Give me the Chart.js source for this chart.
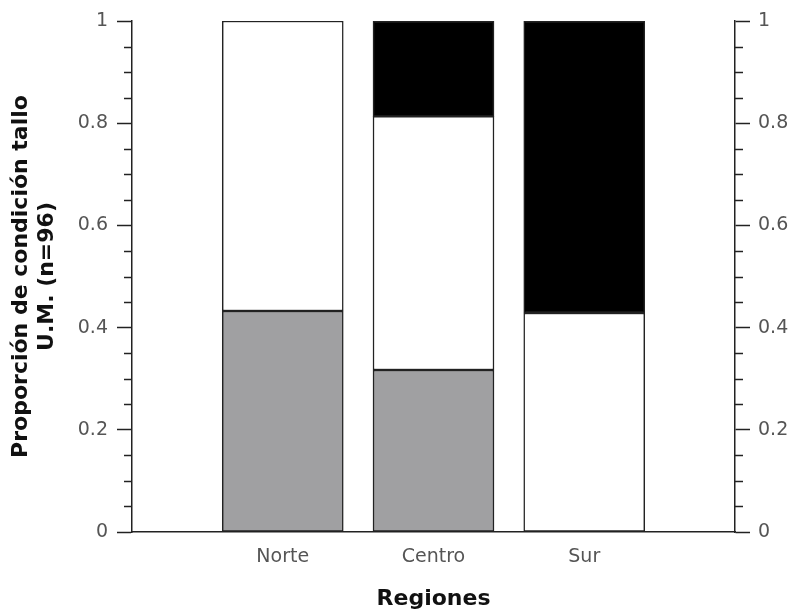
<!DOCTYPE html>
<html>
<head>
<meta charset="utf-8">
<script src="https://cdn.jsdelivr.net/npm/chart.js@4/dist/chart.umd.min.js"></script>
<style>
  html, body { margin: 0; padding: 0; background: #fff; }
  canvas { display: block; }
</style>
</head>
<body>
<canvas id="c" width="796" height="616"></canvas>
<script>
// Regions (blank slots pad the category axis on each side)
const regiones = ['', 'Norte', 'Centro', 'Sur', ''];

// Proportion of each stem condition per region
const condGris   = [null, 0.4325, 0.317, null, null];
const condBlanco = [null, 0.5675, 0.4965, 0.4286, null];
const condNegro  = [null, null, 0.1865, 0.5714, null];

const yTicksMajor = [0, 0.2, 0.4, 0.6, 0.8, 1];
const yMinorStep = 0.05;

const axisColor = '#222';
const tickFont = { family: 'DejaVu Sans', size: 19 };
const tickColor = '#555';
const titleFont = { family: 'DejaVu Sans', size: 22, weight: 'bold', lineHeight: 1.15 };

// Short unlabeled ticks between the labeled ones on both y axes
const minorTicks = {
  id: 'minorTicks',
  afterDraw(chart) {
    const ctx = chart.ctx;
    const area = chart.chartArea;
    ctx.save();
    ctx.strokeStyle = axisColor;
    ctx.lineWidth = 1.5;
    ['y', 'y2'].forEach(id => {
      const s = chart.scales[id];
      for (let i = 0; i <= 20; i++) {
        const v = i * yMinorStep;
        if (i % 4 === 0) continue;
        const py = Math.round(s.getPixelForValue(v)) + 0.5;
        ctx.beginPath();
        if (id === 'y') { ctx.moveTo(area.left - 8, py); ctx.lineTo(area.left, py); }
        else { ctx.moveTo(area.right, py); ctx.lineTo(area.right + 8, py); }
        ctx.stroke();
      }
    });
    ctx.restore();
  }
};

const fmt = v => String(Math.round(v * 10) / 10);
const barStyle = { borderColor: axisColor, borderWidth: 1.5, borderSkipped: false, barThickness: 121 };

new Chart(document.getElementById('c'), {
  type: 'bar',
  data: {
    labels: regiones,
    datasets: [
      Object.assign({ label: 'gris', data: condGris, backgroundColor: '#a0a0a2' }, barStyle),
      Object.assign({ label: 'blanco', data: condBlanco, backgroundColor: '#ffffff' }, barStyle),
      Object.assign({ label: 'negro', data: condNegro, backgroundColor: '#000000' }, barStyle)
    ]
  },
  options: {
    responsive: false,
    animation: false,
    layout: { padding: { top: 21, left: 0, right: 0, bottom: 0 } },
    plugins: { legend: { display: false }, tooltip: { enabled: false } },
    scales: {
      x: {
        stacked: true,
        offset: false,
        grid: { display: false },
        border: { display: true, color: axisColor, width: 1.5 },
        ticks: { color: tickColor, font: tickFont, padding: 6, maxRotation: 0, autoSkip: false },
        title: { display: true, text: 'Regiones', color: '#111', font: titleFont, padding: { top: 20 } },
        afterFit(s) { s.height = 84; }
      },
      y: {
        stacked: true,
        position: 'left',
        min: 0, max: 1,
        afterBuildTicks(s) { s.ticks = yTicksMajor.map(v => ({ value: v })); },
        grid: { drawOnChartArea: false, drawTicks: true, tickLength: 15, tickColor: axisColor, tickWidth: 1.5 },
        border: { display: true, color: axisColor, width: 1.5 },
        ticks: { color: tickColor, font: tickFont, padding: 9, callback: fmt },
        title: { display: true, text: ['Proporción de condición tallo', 'U.M. (n=96)'], color: '#111',
                 font: titleFont, padding: { top: 9, bottom: 0 } },
        afterFit(s) { s.width = 132; }
      },
      y2: {
        position: 'right',
        min: 0, max: 1,
        afterBuildTicks(s) { s.ticks = yTicksMajor.map(v => ({ value: v })); },
        grid: { drawOnChartArea: false, drawTicks: true, tickLength: 15, tickColor: axisColor, tickWidth: 1.5 },
        border: { display: true, color: axisColor, width: 1.5 },
        ticks: { color: tickColor, font: tickFont, padding: 8, callback: fmt },
        afterFit(s) { s.width = 61; }
      }
    }
  },
  plugins: [minorTicks]
});
</script>
</body>
</html>
